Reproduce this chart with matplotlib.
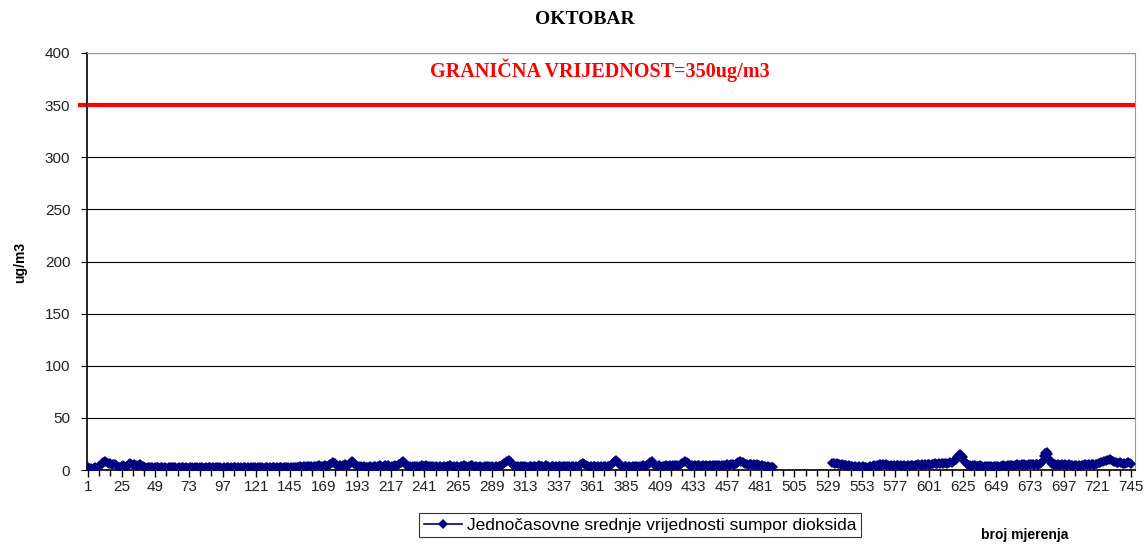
import numpy as np
import matplotlib
matplotlib.use("Agg")
import matplotlib.pyplot as plt

nan = float("nan")

so2_001_050 = [3,2,2,1,2,3,2,3,4,5, 6,8,9,8,7,6,7,5,6,6, 5,4,3,3,4,5,4,3,4,6, 7,6,5,6,5,4,5,6,5,4, 3,3,2,3,3,2,3,2,3,3]
so2_051_100 = [3,2,3,3,2,3,2,2,3,3, 2,3,3,2,2,3,2,3,3,2, 3,2,2,3,3,2,3,2,3,2, 3,3,2,2,3,2,3,3,2,3, 2,3,2,3,3,2,2,3,2,3]
so2_101_150 = [3,2,3,2,3,3,2,3,2,3, 2,3,3,2,3,2,3,2,3,3, 2,3,2,3,3,2,2,3,3,2, 3,2,3,3,2,3,2,3,3,2, 3,3,2,3,2,3,3,2,3,3]
so2_151_200 = [3,4,3,3,4,3,4,3,4,4, 3,4,3,4,4,5,4,3,4,5, 4,4,5,6,7,8,7,5,4,4, 5,4,5,6,5,4,5,7,9,8, 6,5,4,4,3,4,3,4,3,3]
so2_201_250 = [3,4,3,3,4,4,3,4,5,4, 3,4,5,4,5,4,3,4,4,5, 4,5,6,7,8,9,7,5,4,3, 4,3,4,4,3,4,3,4,5,4, 4,5,4,4,3,4,4,3,4,3]
so2_251_300 = [3,4,3,3,4,3,4,4,5,4, 3,4,3,4,3,3,4,4,5,4, 4,3,4,5,5,4,3,4,3,3, 4,3,3,4,3,4,4,3,4,3, 3,4,3,4,4,5,6,7,8,9]
so2_301_350 = [10,9,7,5,4,4,3,4,3,4, 4,3,4,3,3,4,4,3,4,4, 3,4,5,4,4,3,4,5,4,3, 3,4,4,3,4,3,4,4,3,4, 4,3,4,4,3,4,4,3,4,3]
so2_351_400 = [4,5,6,7,6,5,4,4,3,4, 3,4,4,3,4,3,4,3,4,4, 3,4,4,5,6,8,9,10,8,6, 4,4,3,4,4,3,4,3,3,4, 4,3,4,3,4,4,5,4,4,5]
so2_401_450 = [6,8,9,7,5,4,4,5,4,3, 4,4,5,4,4,5,4,5,4,5, 5,4,5,6,7,8,9,8,7,5, 4,5,4,5,4,5,5,4,4,5, 4,5,4,4,5,4,5,5,4,5]
so2_451_490 = [5,4,5,4,5,5,6,5,5,6, 6,5,6,7,8,9,8,8,7,6, 6,5,6,6,5,6,5,6,5,5, 4,5,4,4,3,4,3,3,3,3]
so2_491_531 = [nan] * 41
so2_532_580 = [7,7,6,7,6,6,5,6,5,5, 5,4,5,4,4,3,4,3,3,4, 3,3,4,3,3,2,3,4,3,4, 5,4,5,5,6,5,6,5,6,5, 5,4,5,4,5,4,5,5,4]
so2_581_625 = [5,4,5,4,4,5,4,5,5,4, 5,5,6,5,5,6,5,6,5,6, 6,5,6,6,7,6,6,7,6,7, 6,7,7,6,7,8,7,8,9,10, 12,14,15,14,12]
so2_626_680 = [9,7,6,5,5,4,5,4,5,4, 4,5,4,4,3,4,4,3,4,4, 3,4,3,4,4,3,4,4,5,4, 4,5,4,5,5,4,5,5,6,5, 5,6,5,6,5,5,6,5,6,6, 5,6,6,5,6]
so2_681_720 = [7,9,13,16,17,15,10,7,6,5, 6,5,6,5,5,6,5,6,5,5, 6,5,5,4,5,5,4,5,4,5, 5,6,5,5,6,5,6,6,5,6]
so2_721_745 = [6,7,7,8,8,9,9,10,10,11, 10,9,8,8,7,7,8,7,6,7, 6,7,8,7,6]

limit_value = 350
tick_labels = list(range(1, 746, 24))

so2 = np.array(so2_001_050 + so2_051_100 + so2_101_150 + so2_151_200 + so2_201_250
               + so2_251_300 + so2_301_350 + so2_351_400 + so2_401_450 + so2_451_490
               + so2_491_531 + so2_532_580 + so2_581_625 + so2_626_680 + so2_681_720
               + so2_721_745, dtype=float)
x = np.arange(1, len(so2) + 1)

fig = plt.figure(figsize=(11.47, 5.44), dpi=100)
ax = fig.add_axes([87/1147, 1 - 470/544, (1135 - 87)/1147, (470 - 53)/544])

sans = "Liberation Sans"
serif = "Liberation Serif"

ax.set_ylim(0, 400)
ax.set_xlim(0.3, 747.9)
ax.set_yticks(range(0, 401, 50))
ax.grid(axis="y", color="black", linewidth=0.8)
ax.set_axisbelow(True)

ax.axhline(limit_value, color="#ff0000", linewidth=3, zorder=3)
ax.plot([-0.007, 0], [350/400, 350/400], transform=ax.transAxes, color="#ff0000",
        linewidth=3, clip_on=False)

ax.plot(x, so2, color="#000080", linewidth=1.2, marker="D", markersize=5.5,
        markeredgewidth=0, zorder=4,
        label="Jednočasovne srednje vrijednosti sumpor dioksida")

for s in ["top", "right"]:
    ax.spines[s].set_color("#999999")
for s in ["left", "bottom"]:
    ax.spines[s].set_color("black")
    ax.spines[s].set_linewidth(1.2)

ax.set_xticks(tick_labels)
ax.set_xticks(np.arange(1, 746, 8), minor=True)
ax.tick_params(axis="x", which="major", length=5, width=1, labelsize=11, pad=2)
ax.tick_params(axis="x", which="minor", length=4, width=1)
ax.tick_params(axis="y", length=4, labelsize=11, pad=8)
for lab in ax.get_xticklabels() + ax.get_yticklabels():
    lab.set_fontfamily(sans)
    lab.set_color("#222222")

fig.text(585/1147, 1 - 20/544, "OKTOBAR", ha="center", va="center",
         fontfamily=serif, fontweight="bold", fontsize=14)
fig.text(600/1147, 1 - 70/544, "GRANIČNA VRIJEDNOST=350ug/m3", ha="center", va="center",
         color="#ff0000", fontfamily=serif, fontweight="bold", fontsize=14.5)
fig.text(20/1147, 1 - 262/544, "ug/m3", rotation=90, ha="center", va="center",
         fontfamily=sans, fontweight="bold", fontsize=10)
fig.text(1025/1147, 1 - 535/544, "broj mjerenja", ha="center", va="center",
         fontfamily=sans, fontweight="bold", fontsize=10)

leg = fig.legend(loc="center", bbox_to_anchor=(640/1147, 1 - 525/544),
                 prop={"family": sans, "size": 12.5}, frameon=True, fancybox=False,
                 edgecolor="black", handlelength=2.2, borderpad=0.25, handletextpad=0.3)
leg.get_frame().set_linewidth(0.8)

fig.savefig("out.png", dpi=100)
